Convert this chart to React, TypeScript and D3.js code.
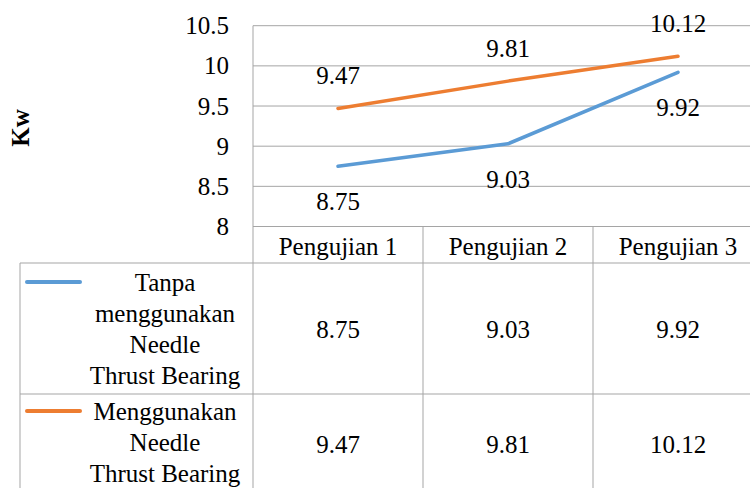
import React from "react";
import * as d3 from "d3";

const categories = ["Pengujian 1", "Pengujian 2", "Pengujian 3"];
const seriesNames = [
  ["Tanpa", "menggunakan", "Needle", "Thrust Bearing"],
  ["Menggunakan", "Needle", "Thrust Bearing"],
];
const tanpaValues = [8.75, 9.03, 9.92];
const menggunakanValues = [9.47, 9.81, 10.12];
const yTicks = [8, 8.5, 9, 9.5, 10, 10.5];
const colors = ["#5B9BD5", "#ED7D31"];

const W = 750;
const H = 488;
const FONT = '"Liberation Serif", "Times New Roman", Tinos, "DejaVu Serif", serif';
const GRID = "#A5A5A5";

export default function App() {
  const plotLeft = 253;
  const plotRight = 763;
  const y = d3.scaleLinear().domain([8, 10.5]).range([226.5, 25.7]);
  const x = d3.scaleBand<string>().domain(categories).range([plotLeft, plotRight]);
  const cx = (c: string) => (x(c) as number) + x.bandwidth() / 2;
  const line = d3
    .line<number>()
    .x((_, i) => cx(categories[i]))
    .y((d) => y(d));

  const headerBottom = 263;
  const row1Bottom = 394;
  const tableLeft = 20;
  const rows = [
    { values: tanpaValues, names: seriesNames[0], color: colors[0] },
    { values: menggunakanValues, names: seriesNames[1], color: colors[1] },
  ];
  const ts: React.CSSProperties = { fontFamily: FONT };

  return (
    <svg
      width={W}
      height={H}
      style={{ position: "absolute", left: 0, top: 0, background: "#fff", fontFamily: FONT }}
    >
      <rect x={0} y={0} width={W} height={H} fill="#fff" />
      {yTicks.map((t) => (
        <line key={t} x1={plotLeft} x2={plotRight} y1={y(t)} y2={y(t)} stroke={GRID} strokeWidth={1} />
      ))}
      {yTicks.map((t) => (
        <text key={"l" + t} style={ts} x={229} y={y(t) + 8.5} textAnchor="end" fontSize={25} fill="#000">
          {t}
        </text>
      ))}
      <text
        style={ts}
        transform={`translate(29,128) rotate(-90)`}
        textAnchor="middle"
        fontSize={25}
        fontWeight="bold"
        fill="#000"
      >
        Kw
      </text>
      <line x1={plotLeft} x2={plotLeft} y1={y(10.5)} y2={H + 10} stroke={GRID} strokeWidth={1} />
      {categories.slice(1).map((c) => (
        <line key={"v" + c} x1={x(c)} x2={x(c)} y1={y(8)} y2={H + 10} stroke={GRID} strokeWidth={1} />
      ))}
      <line x1={plotRight} x2={plotRight} y1={y(10.5)} y2={H + 10} stroke={GRID} strokeWidth={1} />
      <line x1={tableLeft} x2={tableLeft} y1={headerBottom} y2={H + 10} stroke={GRID} strokeWidth={1} />
      <line x1={tableLeft} x2={plotRight} y1={headerBottom} y2={headerBottom} stroke={GRID} strokeWidth={1} />
      <line x1={tableLeft} x2={plotRight} y1={row1Bottom} y2={row1Bottom} stroke={GRID} strokeWidth={1} />
      {categories.map((c) => (
        <text key={"h" + c} style={ts} x={cx(c)} y={254.5} textAnchor="middle" fontSize={25} fill="#000">
          {c}
        </text>
      ))}
      <path d={line(tanpaValues) || ""} fill="none" stroke={colors[0]} strokeWidth={3.5} strokeLinecap="round" strokeLinejoin="round" />
      <path d={line(menggunakanValues) || ""} fill="none" stroke={colors[1]} strokeWidth={3.5} strokeLinecap="round" strokeLinejoin="round" />
      {tanpaValues.map((v, i) => (
        <text key={"tb" + i} style={ts} x={cx(categories[i])} y={y(v) + 44} textAnchor="middle" fontSize={25} fill="#000">
          {v.toFixed(2)}
        </text>
      ))}
      {menggunakanValues.map((v, i) => (
        <text key={"ta" + i} style={ts} x={cx(categories[i])} y={y(v) - 24} textAnchor="middle" fontSize={25} fill="#000">
          {v.toFixed(2)}
        </text>
      ))}
      {rows.map((r, ri) => {
        const lineTop = ri === 0 ? 291 : 420;
        return (
          <g key={"r" + ri}>
            <line x1={27} x2={80} y1={lineTop - 9} y2={lineTop - 9} stroke={r.color} strokeWidth={4} strokeLinecap="round" />
            {r.names.map((n, k) => (
              <text key={n} style={ts} x={165} y={lineTop + k * 31} textAnchor="middle" fontSize={25} fill="#000">
                {n}
              </text>
            ))}
            {r.values.map((v, i) => (
              <text
                key={"c" + i}
                style={ts}
                x={cx(categories[i])}
                y={(ri === 0 ? 329 : 444) + 9}
                textAnchor="middle"
                fontSize={25}
                fill="#000"
              >
                {v.toFixed(2)}
              </text>
            ))}
          </g>
        );
      })}
    </svg>
  );
}
